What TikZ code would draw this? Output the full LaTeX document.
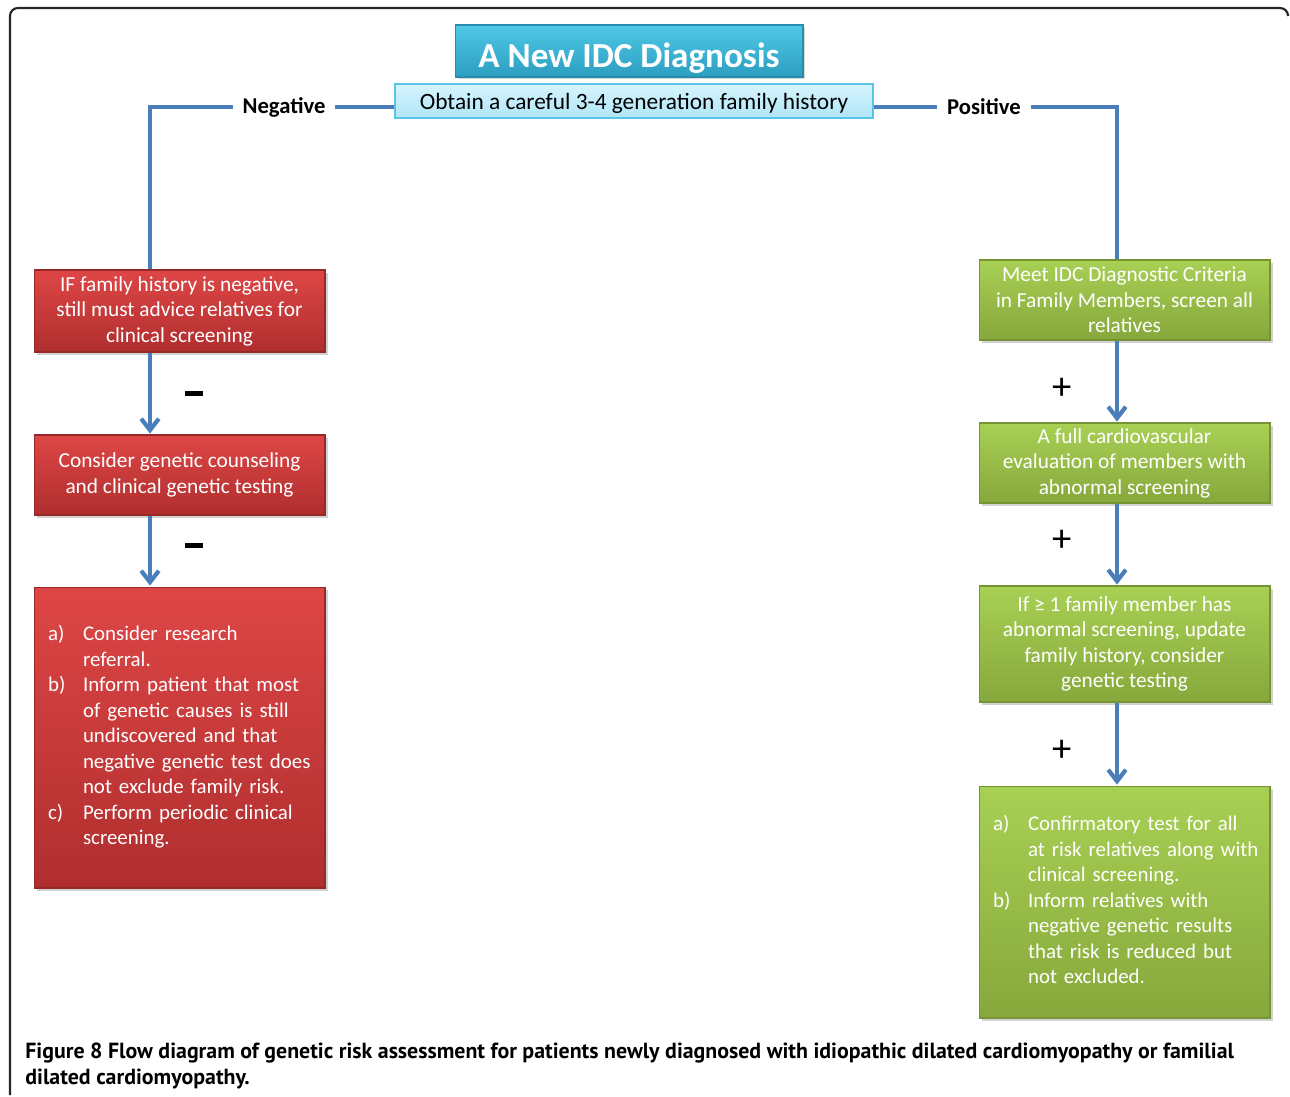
\documentclass[tikz,border=0pt]{standalone}
\usepackage{fontspec}
\setmainfont{Carlito}
\newfontfamily\capfont{PT Sans}
\usetikzlibrary{arrows.meta,shadows}
\definecolor{conn}{HTML}{4A7EBB}
\definecolor{redtop}{RGB}{222,70,70}
\definecolor{redbot}{RGB}{176,46,46}
\definecolor{redborder}{RGB}{150,40,40}
\definecolor{greentop}{RGB}{168,208,84}
\definecolor{greenbot}{RGB}{134,168,60}
\definecolor{greenborder}{RGB}{118,148,52}
\definecolor{cyantop}{RGB}{80,200,230}
\definecolor{cyanbot}{RGB}{44,158,192}
\definecolor{cyanborder}{RGB}{40,140,175}
\definecolor{lighttop}{RGB}{214,244,253}
\definecolor{lightbot}{RGB}{176,230,248}
\definecolor{lightborder}{RGB}{90,196,232}
\begin{document}
\begin{tikzpicture}[x=0.02cm,y=-0.02cm,
  boxbase/.style={line width=0.6pt, inner sep=0pt, minimum width=5.82cm,
    text=white, font=\fontsize{12.15}{14.5}\selectfont, align=center,
    drop shadow={opacity=0.35,shadow xshift=1.6pt,shadow yshift=-1.6pt}},
  redbox/.style={boxbase, draw=redborder, top color=redtop, bottom color=redbot},
  greenbox/.style={boxbase, draw=greenborder, top color=greentop, bottom color=greenbot},
  listbox/.style={inner xsep=0.28cm, text width=5.26cm, align=left, font=\fontsize{11.9}{14.5}\selectfont},
  conn/.style={draw=conn, line width=2.4pt},
  arr/.style={conn, -{Straight Barb[length=6.5pt,width=10pt,line width=2.4pt]}, shorten >=0.5pt},
  branch/.style={font=\bfseries\fontsize{12.9}{15}\selectfont, inner xsep=0.19cm, inner ysep=2pt},
  minus/.style={inner sep=0pt},
  plus/.style={font=\fontsize{22}{24}\selectfont},
  frame/.style={draw=black!85, line width=1.2pt, rounded corners=4.5pt}
]
\useasboundingbox (0,0) rectangle (1290,1096);
\fill[white] (0,0) rectangle (1290,1096);
\draw[frame] (10,1095) -- (10,8) -- (1288,8) -- (1288,14);

% title and first step
\node[draw=cyanborder, line width=0.6pt, top color=cyantop, bottom color=cyanbot,
  minimum width=6.96cm, minimum height=1.04cm, inner sep=0pt, text=white,
  text height=19pt, text depth=0pt,
  font=\bfseries\fontsize{20}{22}\selectfont,
  drop shadow={opacity=0.3,shadow xshift=1.4pt,shadow yshift=-1.4pt}] (title) at (629,51) {A New IDC Diagnosis};
\node[draw=lightborder, line width=0.8pt, top color=lighttop, bottom color=lightbot,
  minimum width=9.56cm, minimum height=0.68cm, inner sep=0pt,
  text height=10pt, text depth=0pt,
  font=\fontsize{13.3}{15}\selectfont] (obt) at (634,101) {Obtain a careful 3-4 generation family history};

% branch labels
\node[branch] (neg) at (284,107) {Negative};
\node[branch] (pos) at (984,107) {Positive};
\coordinate (lx) at (150,0);
\coordinate (rx) at (1117,0);

% left column
\node[redbox, minimum height=1.64cm] (r1) at (179.5,311) {IF family history is negative,\\still must advice relatives for\\clinical screening};
\node[redbox, minimum height=1.6cm] (r2) at (179.5,475) {Consider genetic counseling\\and clinical genetic testing};
\node[redbox, listbox, minimum height=6.02cm] (r3) at (179.5,737.5) {%
\begin{tabular}{@{}p{0.7cm}@{}l@{}}
a) & Consider research\\
   & referral.\\
b) & Inform patient that most\\
   & of genetic causes is still\\
   & undiscovered and that\\
   & negative genetic test does\\
   & not exclude family risk.\\
c) & Perform periodic clinical\\
   & screening.
\end{tabular}};

% right column
\node[greenbox, minimum height=1.6cm] (g1) at (1124.5,300) {Meet IDC Diagnostic Criteria\\in Family Members, screen all\\relatives};
\node[greenbox, minimum height=1.6cm] (g2) at (1124.5,463) {A full cardiovascular\\evaluation of members with\\abnormal screening};
\node[greenbox, minimum height=2.32cm] (g3) at (1124.5,644) {If ≥ 1 family member has\\abnormal screening, update\\family history, consider\\genetic testing};
\node[greenbox, listbox, minimum height=4.64cm] (g4) at (1124.5,902) {%
\begin{tabular}{@{}p{0.7cm}@{}l@{}}
a) & Confirmatory test for all\\
   & at risk relatives along with\\
   & clinical screening.\\
b) & Inform relatives with\\
   & negative genetic results\\
   & that risk is reduced but\\
   & not excluded.
\end{tabular}};

% connectors
\draw[conn] (neg.east) -- (neg.east -| obt.west);
\draw[conn] (neg.west) -| (lx |- r1.north);
\draw[conn] (pos.west) -- (pos.west -| obt.east);
\draw[conn] (pos.east) -| (rx |- g1.north);
\draw[arr] (lx |- r1.south) -- (lx |- r2.north);
\draw[arr] (lx |- r2.south) -- (lx |- r3.north);
\draw[arr] (rx |- g1.south) -- (rx |- g2.north);
\draw[arr] (rx |- g2.south) -- (rx |- g3.north);
\draw[arr] (rx |- g3.south) -- (rx |- g4.north);

% signs
\node[minus] (m1) at (194,393.5) {\rule{0.36cm}{0.1cm}};
\node[minus] (m2) at (194,545.5) {\rule{0.36cm}{0.1cm}};
\node[plus] (p1) at (1062,389) {+};
\node[plus] (p2) at (1062,541) {+};
\node[plus] (p3) at (1062,751) {+};

% caption
\node[anchor=base west, align=left, inner sep=0pt,
  font=\capfont\bfseries\fontsize{12.45}{14.7}\selectfont] (cap) at (25,1084)
  {Figure 8 Flow diagram of genetic risk assessment for patients newly diagnosed with idiopathic dilated cardiomyopathy or familial\\dilated cardiomyopathy.};
\end{tikzpicture}
\end{document}
